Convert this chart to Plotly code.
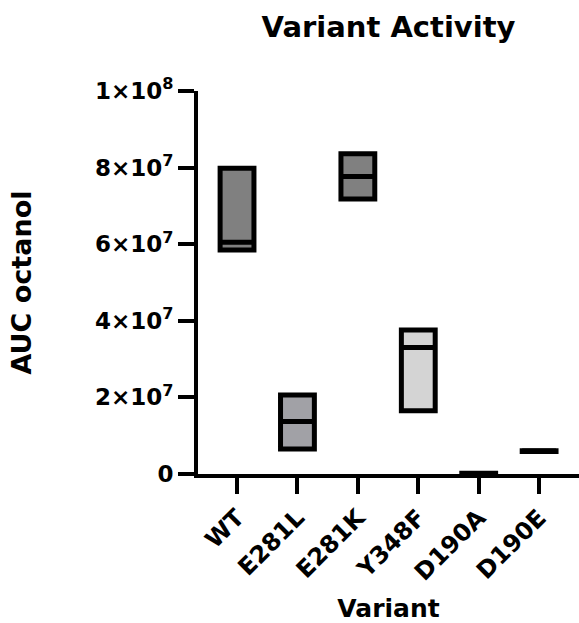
import plotly.graph_objects as go

# ---- data ----
variants = ["WT", "E281L", "E281K", "Y348F", "D190A", "D190E"]
mins = [5.85e7, 0.65e7, 7.18e7, 1.65e7, 0.0, 5.9e6]
medians = [6.05e7, 1.37e7, 7.77e7, 3.30e7, 1.0e5, 6.0e6]
maxs = [7.98e7, 2.06e7, 8.36e7, 3.76e7, 2.0e5, 6.1e6]
fills = ["#808080", "#a1a1a6", "#808080", "#d4d4d4", "#808080", "#808080"]
ytick_vals = [0, 2e7, 4e7, 6e7, 8e7, 1e8]
ytick_text = ["0", "2×10<sup>7</sup>", "4×10<sup>7</sup>", "6×10<sup>7</sup>",
              "8×10<sup>7</sup>", "1×10<sup>8</sup>"]

FONT = "DejaVu Sans"
BAR_W = 0.56
xs = list(range(len(variants)))

fig = go.Figure()
fig.add_trace(go.Bar(
    x=xs,
    base=mins,
    y=[mx - mn for mx, mn in zip(maxs, mins)],
    width=BAR_W,
    marker=dict(color=fills, line=dict(color="black", width=5)),
    showlegend=False,
    hoverinfo="skip",
))

# median lines
mx_x, mx_y = [], []
for i, m in zip(xs, medians):
    mx_x += [i - BAR_W / 2, i + BAR_W / 2, None]
    mx_y += [m, m, None]
fig.add_trace(go.Scatter(
    x=mx_x, y=mx_y, mode="lines",
    line=dict(color="black", width=5),
    showlegend=False, hoverinfo="skip",
))

fig.update_layout(
    width=579, height=623,
    margin=dict(l=198, r=0, t=91, b=149),
    paper_bgcolor="white", plot_bgcolor="white",
    font=dict(family=FONT, color="black", size=24, weight="bold"),
    title=dict(text="Variant Activity", x=0.5, xref="paper",
               y=1 - 27 / 623, yref="container", yanchor="middle",
               font=dict(family=FONT, size=29, weight="bold", color="black")),
    xaxis=dict(
        range=[-0.646, 5.66],
        tickvals=xs, ticktext=variants, tickangle=-45,
        showline=True, linecolor="black", linewidth=4,
        ticks="outside", ticklen=16, tickwidth=4, tickcolor="black",
        showgrid=False, zeroline=False,
        tickfont=dict(family=FONT, size=24, weight="bold"),
        title=dict(text="Variant", standoff=17,
                   font=dict(family=FONT, size=25, weight="bold")),
    ),
    yaxis=dict(
        range=[0, 1e8],
        tickvals=ytick_vals, ticktext=ytick_text,
        showline=True, linecolor="black", linewidth=4,
        ticks="outside", ticklen=16, tickwidth=4, tickcolor="black",
        showgrid=False, zeroline=False,
        tickfont=dict(family=FONT, size=23, weight="bold"),
        title=dict(text="AUC octanol", standoff=56,
                   font=dict(family=FONT, size=27, weight="bold")),
    ),
)

fig.write_html("out.html")
